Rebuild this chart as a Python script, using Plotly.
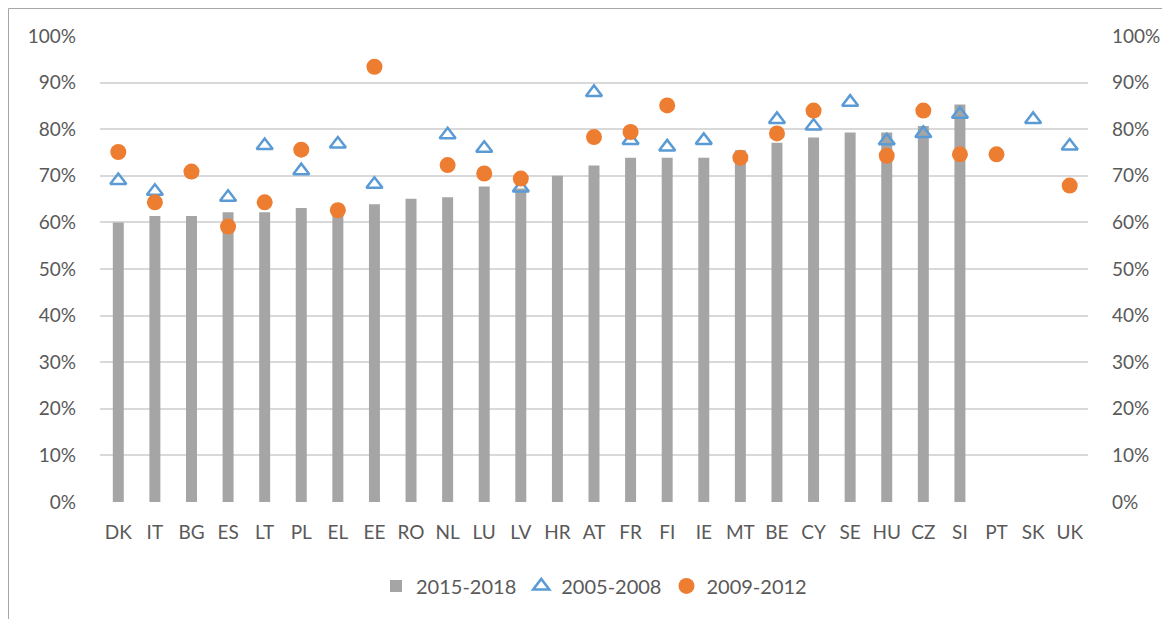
import plotly.graph_objects as go

categories = ["DK", "IT", "BG", "ES", "LT", "PL", "EL", "EE", "RO", "NL", "LU", "LV", "HR", "AT",
              "FR", "FI", "IE", "MT", "BE", "CY", "SE", "HU", "CZ", "SI", "PT", "SK", "UK"]

s_2015_2018 = [0.600, 0.614, 0.614, 0.622, 0.622, 0.631, 0.623, 0.639, 0.651, 0.654, 0.677, 0.673,
               0.700, 0.722, 0.739, 0.739, 0.739, 0.755, 0.771, 0.782, 0.793, 0.793, 0.807, 0.853,
               None, None, None]

s_2005_2008 = [0.690, 0.667, None, 0.654, 0.765, 0.711, 0.768, 0.682, None, 0.788, 0.759, 0.674,
               None, 0.879, 0.776, 0.762, 0.776, None, 0.821, 0.807, 0.858, 0.775, 0.791, 0.832,
               None, 0.821, 0.764]

s_2009_2012 = [0.751, 0.643, 0.709, 0.591, 0.643, 0.756, 0.626, 0.934, None, 0.723, 0.705, 0.694,
               None, 0.783, 0.794, 0.851, None, 0.739, 0.791, 0.840, None, 0.743, 0.840, 0.746,
               0.746, None, 0.679]

tick_vals = [i / 10 for i in range(11)]
tick_text = [f"{i * 10}%" for i in range(11)]

FONT = "Lato"
TXT = "#595959"

fig = go.Figure()
fig.add_trace(go.Bar(
    x=categories, y=s_2015_2018, name="2015-2018",
    marker=dict(color="#a5a5a5", line=dict(width=0)), width=0.3,
))
fig.add_trace(go.Scatter(
    x=categories, y=s_2005_2008, name="2005-2008", mode="markers", yaxis="y2",
    marker=dict(symbol="triangle-up-open", size=14, color="#5b9bd5", line=dict(width=2.5, color="#5b9bd5")),
))
fig.add_trace(go.Scatter(
    x=categories, y=s_2009_2012, name="2009-2012", mode="markers", yaxis="y2",
    marker=dict(symbol="circle", size=16, color="#ed7d31", line=dict(width=0)),
))

axis_common = dict(range=[0, 1], tickvals=tick_vals, ticktext=tick_text,
                   tickfont=dict(family=FONT, size=19, color=TXT), fixedrange=True)

# page body has an 8px offset; compensate so the plot lands where the reference has it
L, R, T, B = 92, 90, 28, 125
W, H = 1170, 619
pw, ph = W - L - R, H - T - B

bx = (0.5 - L) / pw
by = (H - B - 0.5) / ph

fig.update_layout(
    width=W, height=H,
    margin=dict(l=L, r=R, t=T, b=B),
    paper_bgcolor="white", plot_bgcolor="white",
    bargap=0.7,
    showlegend=True,
    legend=dict(orientation="h", x=0.5, xanchor="center", y=-0.18, yanchor="middle",
                font=dict(family=FONT, size=20, color=TXT), itemwidth=30, traceorder="normal"),
    xaxis=dict(showgrid=False, zeroline=False, showline=False, ticks="",
               tickfont=dict(family=FONT, size=19, color=TXT), ticklabelstandoff=17,
               range=[-0.5, len(categories) - 0.5]),
    yaxis=dict(**axis_common, showgrid=True, gridcolor="#d9d9d9", gridwidth=2, zeroline=False,
               showline=False, ticks="", ticklabelstandoff=23),
    yaxis2=dict(**axis_common, overlaying="y", side="right", showgrid=False, zeroline=False,
                showline=False, ticks="", ticklabelstandoff=23),
    shapes=[
        dict(type="line", xref="paper", yref="paper", x0=bx, x1=bx, y0=-1, y1=by,
             line=dict(color="#a6a6a6", width=1)),
        dict(type="line", xref="paper", yref="paper", x0=bx, x1=2, y0=by, y1=by,
             line=dict(color="#a6a6a6", width=1)),
    ],
)

fig.write_html("out.html")
